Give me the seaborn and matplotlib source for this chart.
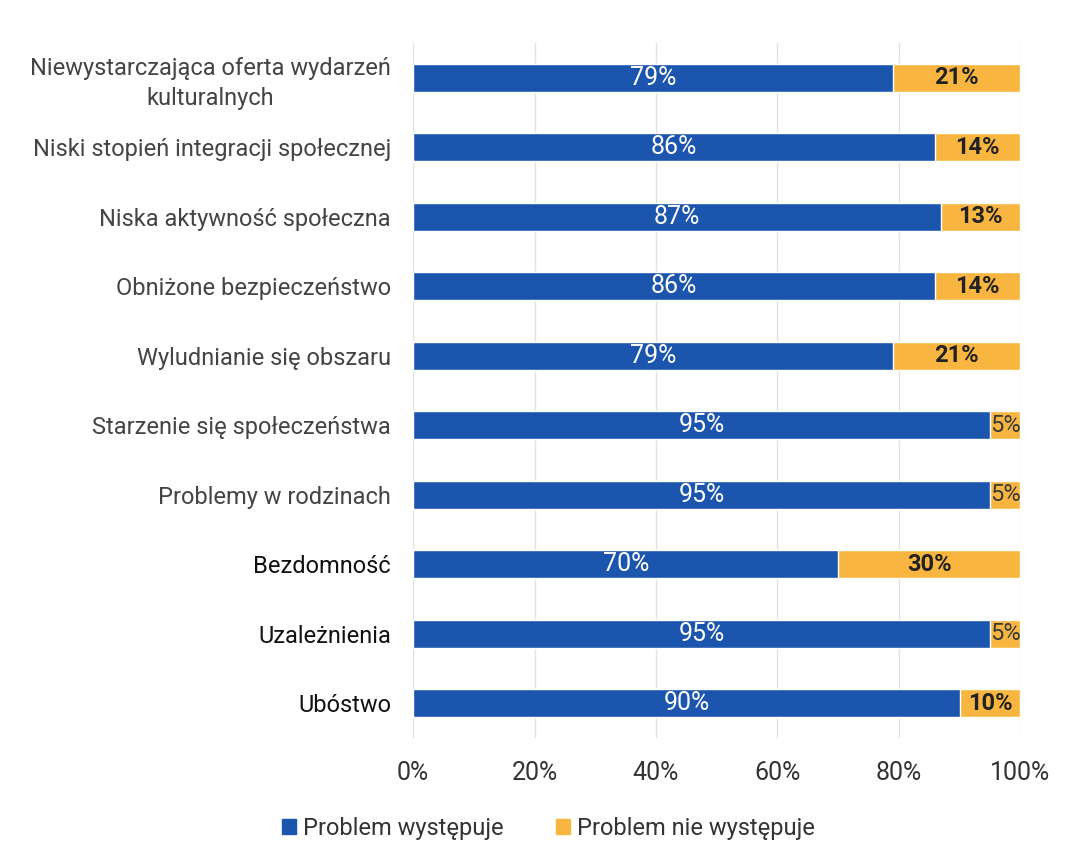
"""
Problemy spoleczne - wykres slupkowy skumulowany
"""

import pandas as pd
import seaborn as sns
import matplotlib.pyplot as plt
from matplotlib.patches import Patch

categories = [
    'Niewystarczająca oferta wydarzeń\nkulturalnych',
    'Niski stopień integracji społecznej',
    'Niska aktywność społeczna',
    'Obniżone bezpieczeństwo',
    'Wyludnianie się obszaru',
    'Starzenie się społeczeństwa',
    'Problemy w rodzinach',
    'Bezdomność',
    'Uzależnienia',
    'Ubóstwo',
]
occurs = [79, 86, 87, 86, 79, 95, 95, 70, 95, 90]
not_occurs = [21, 14, 13, 14, 21, 5, 5, 30, 5, 10]

blue = '#1B55AE'
orange = '#F8B640'

sns.set_theme(style='white')
plt.rcParams['font.family'] = ['Roboto', 'DejaVu Sans']

data = pd.DataFrame({'kategoria': categories, 'wystepuje': occurs, 'nie': not_occurs})
data['razem'] = data['wystepuje'] + data['nie']

fig = plt.figure(figsize=(10.65, 8.61), dpi=100)
ax = fig.add_axes([0.388, 0.143, 0.570, 0.807])

# orange = full bar, blue drawn on top
sns.barplot(data=data, y='kategoria', x='razem', color=orange, width=0.4,
            saturation=1, ax=ax)
sns.barplot(data=data, y='kategoria', x='wystepuje', color=blue, width=0.4,
            saturation=1, ax=ax)

for i, (a, b) in enumerate(zip(occurs, not_occurs)):
    ax.text(a / 2, i, '%d%%' % a, ha='center', va='center', color='white',
            fontsize=18)
    if b <= 5:
        ax.text(a + b / 2, i, '%d%%' % b, ha='center', va='center',
                color='#3a3a3a', fontsize=17)
    else:
        ax.text(a + b / 2, i, '%d%%' % b, ha='center', va='center',
                color='#222222', fontsize=17, fontweight='bold')

ax.set_xlim(0, 100)
ax.set_xticks(range(0, 101, 20))
ax.set_xticklabels(['%d%%' % t for t in range(0, 101, 20)])
ax.xaxis.grid(True, color='#e2e2e2', linewidth=1)
ax.set_axisbelow(True)
for s in ax.spines.values():
    s.set_visible(False)
ax.set(xlabel='', ylabel='')
ax.tick_params(axis='x', labelsize=18, colors='#333333', pad=17, length=0)
ax.tick_params(axis='y', labelsize=17, colors='#444444', pad=16, length=0)
for lbl in ax.get_yticklabels():
    lbl.set_multialignment('center')
    lbl.set_linespacing(1.35)
for lbl in ax.get_yticklabels()[-3:]:
    lbl.set_color('#111111')

handles = [Patch(color=blue, label='Problem występuje'),
           Patch(color=orange, label='Problem nie występuje')]
fig.legend(handles=handles, loc='center', bbox_to_anchor=(0.515, 0.038), ncol=2,
           frameon=False, fontsize=17, handlelength=0.6, handleheight=0.6,
           handletextpad=0.3, columnspacing=2.2, labelcolor='#333333')

plt.savefig('out.png', dpi=100)
